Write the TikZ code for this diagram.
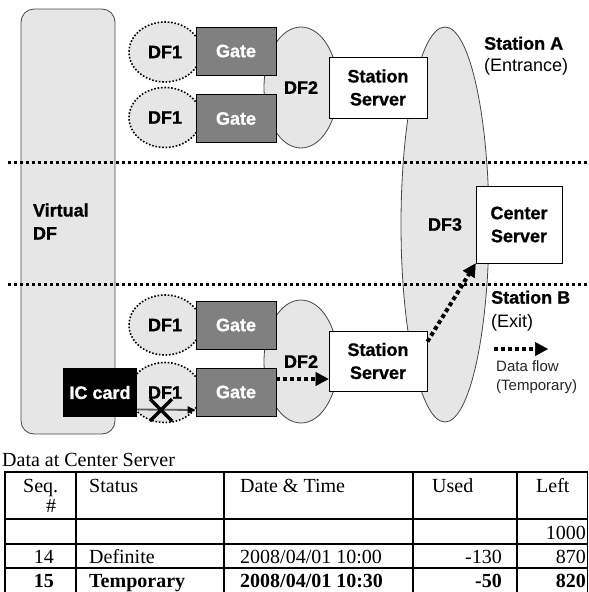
\documentclass[tikz,border=0pt]{standalone}
\usepackage{fontspec}
\setmainfont{Liberation Serif}
\setsansfont{Liberation Sans}[BoldFeatures={FakeBold=1}]
\usepackage{tikz}
\usetikzlibrary{shapes.geometric, arrows.meta}

\definecolor{dffill}{RGB}{230,230,230}
\definecolor{gatefill}{RGB}{128,128,128}
\definecolor{rimgray}{RGB}{70,70,70}

\begin{document}
\begin{tikzpicture}[x=1pt,y=1pt,yscale=-1,xscale=1,
  lbl/.style={font=\sffamily\bfseries\fontsize{18}{23}\selectfont},
  dfone/.style={ellipse, draw=black, line width=1.6pt, dash pattern=on 1.6pt off 1.8pt, fill=dffill, minimum width=72, minimum height=60, inner sep=0, lbl},
  dfbig/.style={ellipse, draw=rimgray, line width=0.8pt, fill=dffill, inner sep=0, lbl},
  gatebox/.style={draw=black, line width=0.8pt, fill=gatefill, text=white, minimum width=80, minimum height=48, inner sep=0, lbl},
  serverbox/.style={draw=black, line width=0.8pt, fill=white, align=center, inner sep=0, lbl},
  sepline/.style={line width=3pt, dash pattern=on 3pt off 3pt},
  flow/.style={line width=4pt, dash pattern=on 4pt off 3pt, -{Triangle[length=13pt,width=14pt,line width=0.5pt]}},
  cell/.style={inner sep=0, font=\fontsize{20}{20}\selectfont},
  cellb/.style={inner sep=0, font=\fontsize{20}{20}\selectfont\bfseries},
]
\useasboundingbox (0,0) rectangle (589,592);

%Shape: Rounded Rect
\node (vdf) [draw=rimgray, line width=0.8pt, fill=dffill, rounded corners=13, minimum width=94, minimum height=425, text width=70, align=left, inner sep=0, lbl] at (68,221.5) {Virtual\\DF};
%Shape: Ellipse
\node (df3) [dfbig, minimum width=88, minimum height=395] at (445,224.5) {DF3};

%Straight Lines
\draw [sepline] (8,162) -- (589,162) ;
%Straight Lines
\draw [sepline] (8,284) -- (589,284) ;

%Shape: Ellipse
\node (dfoneA1) [dfone] at (165,52) {DF1};
\node (dfoneA2) [dfone] at (165,117.5) {DF1};
\node (dfoneB1) [dfone] at (165,325) {DF1};
\node (dfoneB2) [dfone] at (165,392.5) {DF1};
%Shape: Ellipse
\node (dftwoA) [dfbig, minimum width=74, minimum height=121] at (301,87.5) {DF2};
\node (dftwoB) [dfbig, minimum width=74, minimum height=123] at (301,361.5) {DF2};

%Shape: Rectangle
\node (gateA1) [gatebox] at (236,51) {Gate};
\node (gateA2) [gatebox] at (236,118.5) {Gate};
\node (gateB1) [gatebox] at (236,325) {Gate};
\node (gateB2) [gatebox] at (236,392) {Gate};

%Shape: Rectangle
\node (srvA) [serverbox, minimum width=98, minimum height=61] at (378,87.5) {Station\\Server};
\node (srvB) [serverbox, minimum width=98, minimum height=60] at (378,361) {Station\\Server};
\node (ctr) [serverbox, minimum width=86, minimum height=77] at (519,224.5) {Center\\Server};

%Shape: Rectangle
\node (ic) [fill=black, text=white, minimum width=74, minimum height=49, inner sep=0, lbl] at (100,392.5) {IC card};

%Straight Lines
\draw [draw=black!65, line width=1.8pt, -{Triangle[length=8pt,width=7pt,color=black]}] ([yshift=17pt]ic.east) -- ([yshift=18pt]gateB2.west) ;
\draw [line width=3.5pt] (150,399) -- (172,421) (150,421) -- (172,399) ;

%Straight Lines
\draw [flow] ([yshift=-13pt]gateB2.east) -- ([yshift=18pt]srvB.west) ;
%Straight Lines
\draw [flow] ([yshift=11pt]srvB.north east) -- (ctr.south west) ;

% Text Node
\node (staA) [anchor=west, align=left, inner sep=0, font=\sffamily\fontsize{18}{22}\selectfont] at (484,56) {\textbf{Station A}\\(Entrance)};
% Text Node
\node (staB) [anchor=west, align=left, inner sep=0, font=\sffamily\fontsize{18}{24}\selectfont] at (491,311) {\textbf{Station B}\\(Exit)};

%Straight Lines
\coordinate (legS) at (494,349);
\coordinate (legE) at (548,349);
\draw [flow] (legS) -- (legE) ;
% Text Node
\node (legtxt) [anchor=west, align=left, inner sep=0, text=black!85, font=\sffamily\fontsize{15}{19}\selectfont] at (496,377.5) {Data flow\\(Temporary)};

% Text Node
\node (cap) [cell, anchor=base west] at (2,466) {Data at Center Server};

%Straight Lines
\draw [line width=1.6pt] (4,472) -- (588,472) (4,519) -- (588,519) (4,544) -- (588,544) (4,568) -- (588,568) ;
\draw [line width=1.6pt] (5,471.2) -- (5,592) (76,471.2) -- (76,592) (224,471.2) -- (224,592) (413,471.2) -- (413,592) (517,471.2) -- (517,592) (587.5,471.2) -- (587.5,592) ;

% Text Node
\node (hseq) [cell, anchor=base west] at (23,492) {Seq.};
\node (hnum) [cell, anchor=base west] at (46,512) {\#};
\node (hstat) [cell, anchor=base west] at (89,492) {Status};
\node (hdate) [cell, anchor=base west] at (240,492) {Date \& Time};
\node (hused) [cell, anchor=base west] at (432,492) {Used};
\node (hleft) [cell, anchor=base west] at (536,492) {Left};
% Text Node
\node (rzleft) [cell, anchor=base east] at (586,539) {1000};
% Text Node
\node (raseq) [cell, anchor=base] at (44,563) {14};
\node (rastat) [cell, anchor=base west] at (89,563) {Definite};
\node (radate) [cell, anchor=base west] at (240,563) {2008/04/01 10:00};
\node (raused) [cell, anchor=base east] at (502,563) {-130};
\node (raleft) [cell, anchor=base east] at (586,563) {870};
% Text Node
\node (rbseq) [cellb, anchor=base] at (44,587) {15};
\node (rbstat) [cellb, anchor=base west] at (89,587) {Temporary};
\node (rbdate) [cellb, anchor=base west] at (240,587) {2008/04/01 10:30};
\node (rbused) [cellb, anchor=base east] at (502,587) {-50};
\node (rbleft) [cellb, anchor=base east] at (586,587) {820};

\end{tikzpicture}
\end{document}
